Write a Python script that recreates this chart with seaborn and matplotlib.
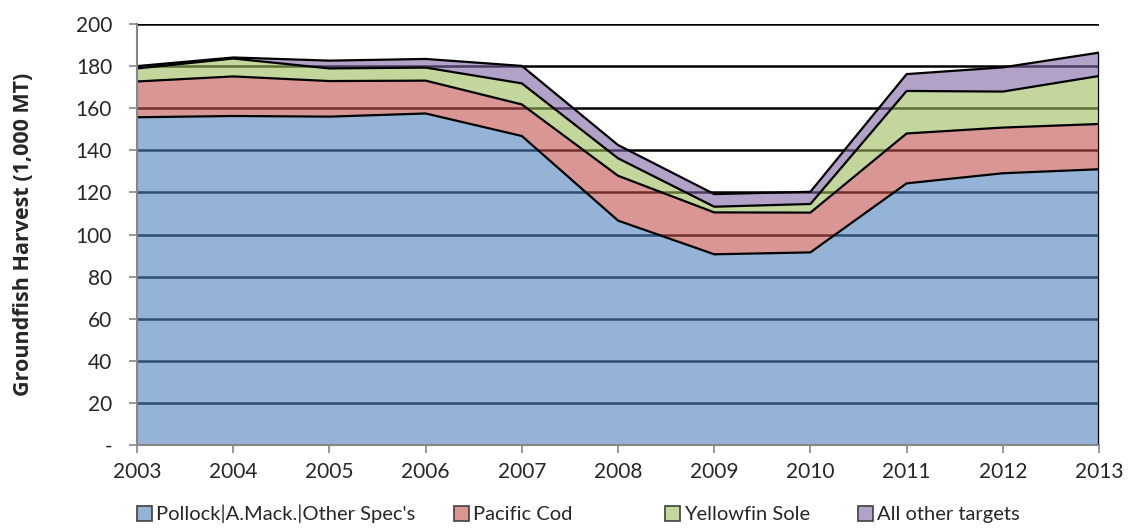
import numpy as np
import pandas as pd
import matplotlib
matplotlib.use("Agg")
import matplotlib.pyplot as plt
import seaborn as sns
from matplotlib.patches import Patch

years = [2003, 2004, 2005, 2006, 2007, 2008, 2009, 2010, 2011, 2012, 2013]
pollock = [155.7, 156.3, 156.0, 157.5, 146.8, 106.6, 90.6, 91.5, 124.3, 129.1, 131.0]
pacific_cod = [17.0, 18.8, 16.9, 15.6, 15.0, 21.3, 19.9, 18.9, 23.7, 21.7, 21.5]
yellowfin_sole = [6.2, 8.5, 6.0, 6.2, 10.0, 8.3, 2.7, 4.1, 20.2, 17.1, 22.8]
all_other = [1.1, 0.5, 3.7, 4.1, 8.3, 6.3, 6.0, 5.8, 8.0, 11.5, 11.1]
series_names = ["Pollock|A.Mack.|Other Spec's", "Pacific Cod", "Yellowfin Sole", "All other targets"]
series_colors = ["#4F81BD", "#C0504D", "#9BBB59", "#8064A2"]
yticks = [0, 20, 40, 60, 80, 100, 120, 140, 160, 180, 200]
ytick_labels = ["-", "20", "40", "60", "80", "100", "120", "140", "160", "180", "200"]

sns.set_theme(style="white")
plt.rcParams['font.family'] = ['Lato', 'DejaVu Sans']

fig = plt.figure(figsize=(11.28, 5.29), dpi=100)
ax = fig.add_axes([0.1215, 0.1588, 0.8528, 0.7958])

vals = np.array([pollock, pacific_cod, yellowfin_sole, all_other])
cum = np.cumsum(vals, axis=0)

# gridlines behind translucent fills
for t in yticks[1:]:
    ax.axhline(t, color="black", lw=1.8, zorder=0.5)

lower = np.zeros(len(years))
for i, name in enumerate(series_names):
    ax.fill_between(years, lower, cum[i], color=series_colors[i], alpha=0.6, lw=0, zorder=1)
    lower = cum[i]

long = pd.DataFrame({"year": np.tile(years, 4), "value": cum.ravel(),
                     "layer": np.repeat(series_names, len(years))})
sns.lineplot(data=long, x="year", y="value", units="layer", estimator=None,
             color="black", lw=1.6, ax=ax, zorder=2, legend=False)
ax.vlines(years[-1], 0, cum[-1][-1], color="black", lw=1.6, zorder=2)

ax.set_xlim(years[0], years[-1])
ax.set_ylim(0, 200)
ax.set_xticks(years)
ax.set_xticklabels([str(y) for y in years], fontsize=15)
ax.set_yticks(yticks)
ax.set_yticklabels(ytick_labels, fontsize=15)
ax.set_xlabel("")
ax.set_ylabel("Groundfish Harvest (1,000 MT)", fontsize=15.5, fontweight="bold",
              family=["Open Sans", "DejaVu Sans"])
ax.yaxis.set_label_coords(-0.107, 0.5)

for s in ["top", "right"]:
    ax.spines[s].set_visible(False)
for s in ["left", "bottom"]:
    ax.spines[s].set_color("#868686")
    ax.spines[s].set_linewidth(1.5)
    ax.spines[s].set_zorder(3)
ax.tick_params(axis="both", which="both", direction="out", length=6, width=1.2,
               color="#868686", left=True, bottom=True)
ax.tick_params(axis="y", pad=12)
ax.tick_params(axis="x", pad=6)

handles = [Patch(facecolor=tuple(0.6 * np.array(matplotlib.colors.to_rgb(c)) + 0.4),
                 edgecolor="#404040", lw=1.2) for c in series_colors]
legend_x = [0.111, 0.392, 0.579, 0.750]
for h, name, lx in zip(handles, series_names, legend_x):
    leg = fig.legend([h], [name], loc="lower left", bbox_to_anchor=(lx, -0.012),
                     frameon=False, fontsize=14.5, handlelength=0.75, handleheight=0.75,
                     handletextpad=0.2, borderpad=0.3, borderaxespad=0.3)

fig.savefig("out.png", dpi=100)
